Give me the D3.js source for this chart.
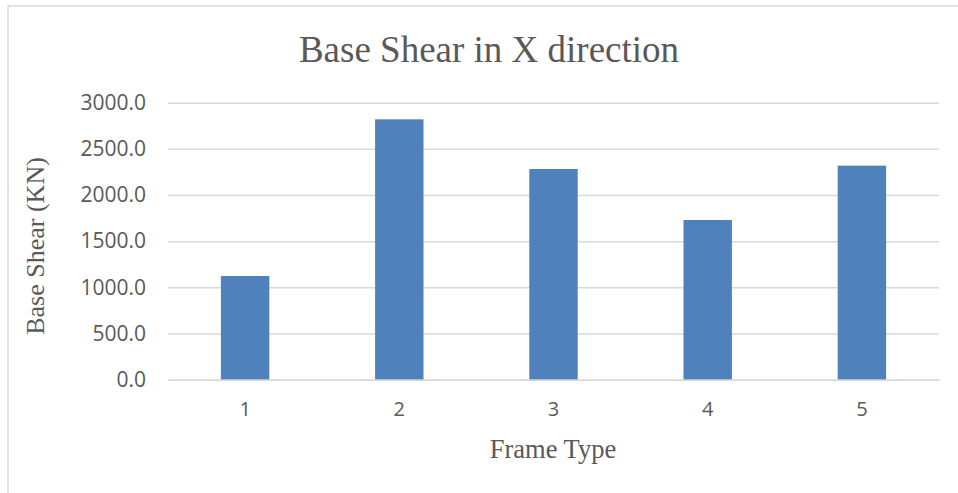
<!DOCTYPE html>
<html><head><meta charset="utf-8">
<script src="https://cdn.jsdelivr.net/npm/d3@7"></script>
<style>html,body{margin:0;padding:0;background:#fff;}svg{display:block;}</style>
</head><body>
<svg id="chart" width="958" height="493"></svg>
<script>
const categories = ["1", "2", "3", "4", "5"];
const values = [1123, 2820, 2282, 1730, 2318];
const yTicks = [0, 500, 1000, 1500, 2000, 2500, 3000];
const title = "Base Shear in X direction";
const xTitle = "Frame Type";
const yTitle = "Base Shear (KN)";

const svg = d3.select("#chart");
const W = 958, H = 493;
const m = {left: 168, right: 19, top: 102.7, bottom: 113.3};
const textColor = "#595959";

svg.append("rect").attr("x", 8).attr("y", 6).attr("width", 980).attr("height", 520)
  .attr("fill", "#fff").attr("stroke", "#d9d9d9").attr("stroke-width", 1.5);

const x = d3.scaleBand().domain(categories).range([m.left, W - m.right]).paddingInner(0.686).paddingOuter(0.343);
const y = d3.scaleLinear().domain([0, 3000]).range([H - m.bottom, m.top]);

// gridlines
const yAxis = d3.axisLeft(y).tickValues(yTicks).tickSize(-(W - m.left - m.right)).tickFormat(d3.format(".1f")).tickPadding(22);
const gy = svg.append("g").attr("transform", `translate(${m.left},0)`).call(yAxis);
gy.select(".domain").remove();
gy.selectAll(".tick line").attr("stroke", "#d9d9d9").attr("stroke-width", 1.5);
gy.selectAll(".tick text").attr("fill", textColor).style("font-family", "'Open Sans', sans-serif").style("font-size", "21px");

// bars
svg.append("g").selectAll("rect").data(values).join("rect")
  .attr("x", (d, i) => x(categories[i]))
  .attr("width", x.bandwidth())
  .attr("y", d => y(d))
  .attr("height", d => y(0) - y(d))
  .attr("fill", "#4f81bd");

// x axis
const xAxis = d3.axisBottom(x).tickSize(0).tickPadding(22);
const gx = svg.append("g").attr("transform", `translate(0,${y(0)})`).call(xAxis);
gx.select(".domain").attr("stroke", "#d9d9d9").attr("stroke-width", 1.5);
gx.selectAll(".tick text").attr("fill", textColor).style("font-family", "'Open Sans', sans-serif").style("font-size", "20px");

// titles
svg.append("text").attr("x", 489).attr("y", 62).attr("text-anchor", "middle")
  .attr("fill", textColor).style("font-family", "'Liberation Serif', 'Times New Roman', serif").style("font-size", "37px")
  .text(title);
svg.append("text").attr("x", 553).attr("y", 458).attr("text-anchor", "middle")
  .attr("fill", textColor).style("font-family", "'Liberation Serif', 'Times New Roman', serif").style("font-size", "26.5px")
  .text(xTitle);
svg.append("text").attr("transform", "translate(44,246) rotate(-90)").attr("text-anchor", "middle")
  .attr("fill", textColor).style("font-family", "'Liberation Serif', 'Times New Roman', serif").style("font-size", "26px")
  .text(yTitle);
</script>
</body></html>
